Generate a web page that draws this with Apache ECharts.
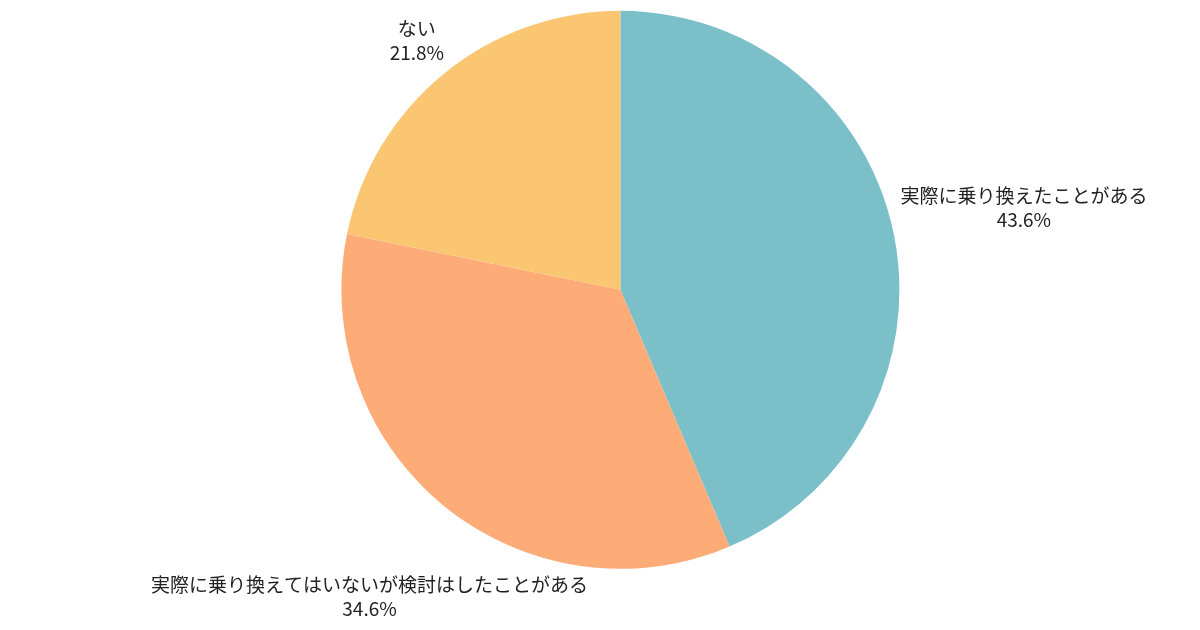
<!DOCTYPE html>
<html>
<head>
<meta charset="utf-8">
<script src="https://cdn.jsdelivr.net/npm/echarts@6/dist/echarts.min.js"></script>
<style>
html,body{margin:0;padding:0;background:#fff;}
#chart{width:1200px;height:630px;}
</style>
</head>
<body>
<div id="chart"></div>
<script>
const categories = ['実際に乗り換えたことがある', '実際に乗り換えてはいないが検討はしたことがある', 'ない'];
const values = [43.6, 34.6, 21.8];
const colors = ['#7bbfc9', '#fdac78', '#fbc671'];

const chart = echarts.init(document.getElementById('chart'));
const W = 1200, H = 630;

function placeLabel(params) {
  const pts = params.labelLinePoints;
  const lr = params.labelRect;
  if (!pts || pts.length < 2) return {};
  const p0 = pts[0], p1 = pts[1];
  let dx = p1[0] - p0[0], dy = p1[1] - p0[1];
  const len = Math.sqrt(dx * dx + dy * dy) || 1;
  dx /= len; dy /= len;
  const hw = lr.width / 2, hh = lr.height / 2;
  let d = 7 + Math.abs(hw * dx) + Math.abs(hh * dy);
  const m = 9;
  // keep the label centre on the ray, shrinking distance to stay within canvas
  const limits = [];
  if (dx > 0) limits.push((W - m - hw - p0[0]) / dx);
  if (dx < 0) limits.push((hw + m - p0[0]) / dx);
  if (dy > 0) limits.push((H - m - hh - p0[1]) / dy);
  if (dy < 0) limits.push((hh + m - p0[1]) / dy);
  limits.forEach(l => { if (l < d) d = l; });
  const cx = p0[0] + dx * d, cy = p0[1] + dy * d;
  return { x: cx, y: cy, align: 'center', verticalAlign: 'middle', moveOverlap: false };
}

chart.setOption({
  animation: false,
  backgroundColor: '#ffffff',
  color: colors,
  series: [{
    type: 'pie',
    center: ['51.7%', '46%'],
    radius: 279,
    startAngle: 90,
    clockwise: true,
    avoidLabelOverlap: false,
    itemStyle: { borderWidth: 0 },
    label: {
      show: true,
      position: 'outside',
      formatter: function (p) { return p.name + '\n' + p.value.toFixed(1) + '%'; },
      fontFamily: '"Noto Sans CJK JP", "Noto Sans", sans-serif',
      fontSize: 19,
      lineHeight: 24,
      color: '#222222',
      align: 'center'
    },
    labelLine: {
      show: true,
      length: 10,
      length2: 0,
      lineStyle: { color: 'rgba(0,0,0,0)', width: 0 }
    },
    labelLayout: placeLabel,
    data: categories.map((c, i) => ({ name: c, value: values[i] }))
  }]
});
</script>
</body>
</html>
